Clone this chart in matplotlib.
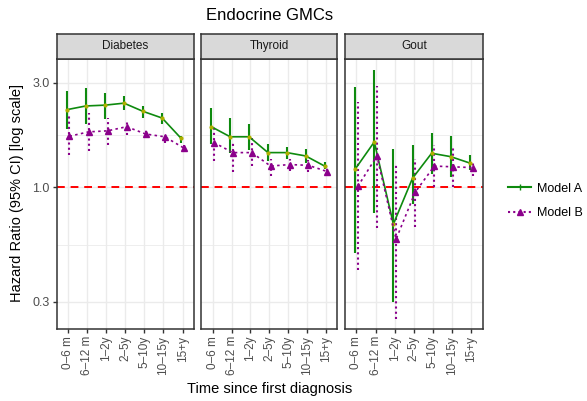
import matplotlib
matplotlib.use("Agg")
import matplotlib.pyplot as plt
from matplotlib.lines import Line2D
from matplotlib.ticker import FixedLocator, NullFormatter
import numpy as np

plt.rcParams['font.family'] = ['Liberation Sans', 'DejaVu Sans']

periods = ["0–6 m", "6–12 m", "1–2y", "2–5y", "5–10y", "10–15y", "15+y"]
panels = ["Diabetes", "Thyroid", "Gout"]

# Model A
a_hr = {
    "Diabetes": [2.26, 2.35, 2.37, 2.42, 2.22, 2.07, 1.67],
    "Thyroid": [1.89, 1.70, 1.70, 1.44, 1.44, 1.39, 1.25],
    "Gout": [1.21, 1.61, 0.68, 1.10, 1.43, 1.38, 1.29],
}
a_lo = {
    "Diabetes": [1.85, 1.94, 2.05, 2.26, 2.07, 1.94, 1.60],
    "Thyroid": [1.57, 1.43, 1.48, 1.32, 1.34, 1.29, 1.21],
    "Gout": [0.50, 0.76, 0.30, 0.84, 1.15, 1.12, 1.20],
}
a_hi = {
    "Diabetes": [2.74, 2.84, 2.69, 2.61, 2.35, 2.18, 1.71],
    "Thyroid": [2.30, 2.07, 1.94, 1.57, 1.53, 1.49, 1.31],
    "Gout": [2.88, 3.42, 1.49, 1.56, 1.77, 1.71, 1.40],
}
# Model B
b_hr = {
    "Diabetes": [1.71, 1.79, 1.81, 1.89, 1.75, 1.70, 1.51],
    "Thyroid": [1.60, 1.44, 1.44, 1.25, 1.27, 1.26, 1.18],
    "Gout": [1.01, 1.39, 0.58, 0.95, 1.25, 1.24, 1.23],
}
b_lo = {
    "Diabetes": [1.40, 1.47, 1.56, 1.73, 1.67, 1.59, 1.45],
    "Thyroid": [1.32, 1.18, 1.25, 1.13, 1.19, 1.17, 1.13],
    "Gout": [0.42, 0.65, 0.25, 0.66, 1.00, 1.00, 1.13],
}
b_hi = {
    "Diabetes": [2.14, 2.18, 2.07, 2.03, 1.86, 1.76, 1.56],
    "Thyroid": [1.89, 1.61, 1.67, 1.34, 1.35, 1.33, 1.22],
    "Gout": [2.46, 2.90, 1.28, 1.34, 1.56, 1.52, 1.31],
}

W, H = 587, 401
fig = plt.figure(figsize=(W / 100, H / 100), dpi=100)

panel_x = [(56.7, 194.0), (201.3, 337.3), (345.0, 482.7)]
p_top, p_bot = 58.7, 328.7
s_top = 34.0

green = "#0e8a0e"
purple = "#8B008B"
ylo, yhi = 0.2266, 3.86
x = np.arange(len(periods))
dodge = 0.07

axes = []
for i, name in enumerate(panels):
    x0, x1 = panel_x[i]
    ax = fig.add_axes([x0 / W, 1 - p_bot / H, (x1 - x0) / W, (p_bot - p_top) / H])
    axes.append(ax)
    ax.set_yscale("log")
    ax.set_ylim(ylo, yhi)
    ax.set_xlim(-0.6, len(periods) - 1 + 0.6)
    ax.yaxis.set_major_locator(FixedLocator([0.3, 1.0, 3.0]))
    ax.yaxis.set_minor_locator(FixedLocator([np.sqrt(0.3), np.sqrt(3.0)]))
    ax.yaxis.set_minor_formatter(NullFormatter())
    ax.set_xticks(x)
    ax.set_xticklabels(periods, rotation=90, fontsize=8.5, color="#4d4d4d")
    ax.grid(True, which="major", color="#ebebeb", lw=1.0, zorder=0)
    ax.grid(True, which="minor", axis="y", color="#ebebeb", lw=0.6, zorder=0)
    ax.tick_params(axis="both", which="major", length=3, color="#333333", width=1.0, pad=2)
    ax.tick_params(axis="y", which="minor", length=0)
    for sp in ax.spines.values():
        sp.set_color("#333333")
        sp.set_linewidth(1.1)
    if i == 0:
        ax.set_yticklabels(["0.3", "1.0", "3.0"], fontsize=9, color="#4d4d4d")
    else:
        ax.tick_params(axis="y", which="both", left=False, labelleft=False)

    ax.axhline(1.0, color="red", ls=(0, (4, 3)), lw=1.4, zorder=2)

    xa = x - dodge
    xb = x + dodge
    ax.vlines(xa, a_lo[name], a_hi[name], color=green, lw=1.5, zorder=3)
    ax.plot(xa, a_hr[name], color=green, lw=1.2, marker="o", ms=2,
            mfc="#b0b000", mec="#b0b000", zorder=4)
    ax.vlines(xb, b_lo[name], b_hi[name], color=purple, lw=1.5,
              linestyles=(0, (1, 1.5)), zorder=3)
    ax.plot(xb, b_hr[name], color=purple, lw=1.2, ls=(0, (1.5, 2)), marker="^", ms=5,
            zorder=4)

    # strip
    sax = fig.add_axes([x0 / W, 1 - p_top / H, (x1 - x0) / W, (p_top - s_top) / H])
    sax.set_facecolor("#d9d9d9")
    sax.set_xticks([])
    sax.set_yticks([])
    for sp in sax.spines.values():
        sp.set_color("#333333")
        sp.set_linewidth(1.1)
    sax.text(0.5, 0.5, name, ha="center", va="center", fontsize=8.5, color="#1a1a1a",
             transform=sax.transAxes)

fig.text(269.7 / W, 1 - 16 / H, "Endocrine GMCs", ha="center", va="center", fontsize=12)
fig.text(269.7 / W, 1 - 389 / H, "Time since first diagnosis", ha="center", va="center",
         fontsize=10.5)
fig.text(17 / W, 1 - 193 / H, "Hazard Ratio (95% CI) [log scale]", ha="center", va="center",
         rotation=90, fontsize=10.5)

handles = [
    Line2D([0], [0], color=green, lw=1.5, marker="|", ms=4, mec=green),
    Line2D([0], [0], color=purple, lw=1.5, ls=(0, (1, 1.5)), marker="^", ms=5),
]
fig.legend(handles, ["Model A", "Model B"], loc="center left",
           bbox_to_anchor=(497 / W, 1 - 201 / H), frameon=False, fontsize=9,
           handlelength=1.8, labelspacing=1.0, handletextpad=0.5)

fig.savefig("out.png", dpi=100)
